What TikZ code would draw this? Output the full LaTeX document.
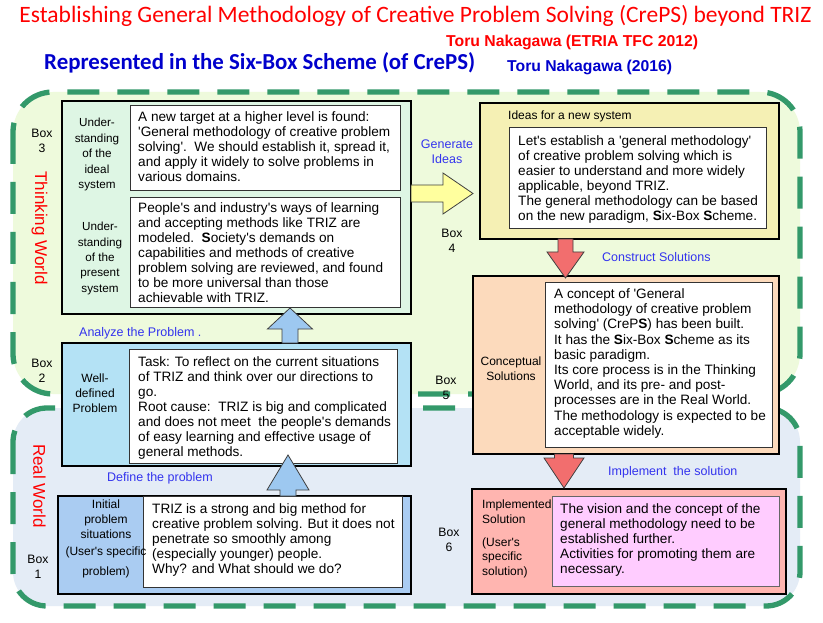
\documentclass[tikz,border=0pt]{standalone}
\usepackage{graphicx}
\usepackage{fontspec}
\setmainfont{Liberation Sans}[Ligatures=TeXOff]
\newfontfamily\calibri{Carlito}
\usetikzlibrary{calc,shadows}
\definecolor{dashgreen}{HTML}{33996A}
\definecolor{thinkbg}{HTML}{EEFADC}
\definecolor{realbg}{HTML}{E4ECF6}
\definecolor{boxthree}{HTML}{DEF6E4}
\definecolor{boxtwo}{HTML}{B4E2F5}
\definecolor{boxone}{HTML}{AACCF2}
\definecolor{boxfour}{HTML}{F5F0B4}
\definecolor{boxfive}{HTML}{FCDABC}
\definecolor{boxsix}{HTML}{FFB5B0}
\definecolor{pinkin}{HTML}{FFCCFF}
\definecolor{arrblue}{HTML}{9DC8F0}
\definecolor{arryellow}{HTML}{FFFF9E}
\definecolor{arrred}{HTML}{F26E6E}
\definecolor{actblue}{HTML}{3333EE}
\definecolor{titlered}{HTML}{FF0000}
\definecolor{subblue}{HTML}{0000CC}
\newcommand\varrowshape[6]{%
  \draw[#1] ($(#2)+(-#4,0)$) -- ($(#3)+(-#4,#6)$) -- ($(#3)+(-#5,#6)$) -- (#3)
    -- ($(#3)+(#5,#6)$) -- ($(#3)+(#4,#6)$) -- ($(#2)+(#4,0)$) -- cycle;}
\newcommand\harrowshape[6]{%
  \draw[#1] ($(#2)+(0,-#4)$) -- ($(#3)+(-#6,-#4)$) -- ($(#3)+(-#6,-#5)$) -- (#3)
    -- ($(#3)+(-#6,#5)$) -- ($(#3)+(-#6,#4)$) -- ($(#2)+(0,#4)$) -- cycle;}
\begin{document}
\begin{tikzpicture}[x=1pt,y=-1pt,
  region/.style={draw=dashgreen, line width=5.3pt, dash pattern=on 32pt off 18pt},
  outerbox/.style={draw=black, line width=1.3pt, anchor=north west, inner sep=0pt, outer sep=0pt},
  whitebox/.style={draw=black!80, line width=0.8pt, fill=white, anchor=north west, inner sep=0pt, outer sep=0pt,
     drop shadow={shadow xshift=1.3pt, shadow yshift=-1.3pt, fill=black!40, opacity=1}},
  body/.style={font=\fontsize{13.6}{15}\selectfont, align=left, anchor=north west, inner sep=0pt},
  lab/.style={font=\fontsize{12}{15}\selectfont, align=center, inner sep=0pt},
  boxlab/.style={font=\fontsize{12.2}{15}\selectfont, align=center, inner sep=0pt},
  act/.style={font=\fontsize{12.5}{15}\selectfont, text=actblue, inner sep=0pt},
  world/.style={font=\fontsize{17}{20}\selectfont, text=titlered, rotate=-90, inner sep=0pt},
  barrow/.style={fill=arrblue, draw=black!75, line width=0.8pt},
  yarrow/.style={fill=arryellow, draw=black!75, line width=0.8pt},
  rarrow/.style={fill=arrred, draw=black!75, line width=0.8pt}]
\useasboundingbox (0,0) rectangle (823,623);
\fill[white] (0,0) rectangle (823,623);

% worlds
\draw[region, fill=thinkbg, rounded corners=40pt] (13,92) rectangle (800,394);
\draw[region, fill=realbg, rounded corners=34pt] (13,408) rectangle (800,606);

% titles
\node[anchor=base west, inner sep=0pt, text=titlered] (title) at (19.3,22.7)
  {\resizebox{792pt}{!}{\calibri\fontsize{21}{24}\selectfont Establishing General Methodology of Creative Problem Solving (CrePS) beyond TRIZ}};
\node[anchor=base west, inner sep=0pt, text=titlered] (auth1) at (446,47)
  {\resizebox{252pt}{!}{\bfseries\fontsize{16.8}{20}\selectfont Toru Nakagawa (ETRIA TFC 2012)}};
\node[anchor=base west, inner sep=0pt, text=subblue] (subtitle) at (44,69.3)
  {\resizebox{431pt}{!}{\calibri\bfseries\fontsize{22}{26}\selectfont Represented in the Six-Box Scheme (of CrePS)}};
\node[anchor=base west, inner sep=0pt, text=subblue] (auth2) at (507,72)
  {\resizebox{165pt}{!}{\bfseries\fontsize{16.8}{20}\selectfont Toru Nakagawa (2016)}};

\node[world] (tw) at (39.5,228) {Thinking World};
\node[world] (rw) at (39.5,486) {Real World};

% Box 3
\node[outerbox, fill=boxthree, minimum width=349pt, minimum height=213pt] (b3) at (62,101) {};
\node[whitebox, minimum width=270pt, minimum height=85pt] (w3a) at (130,105) {};
\node[whitebox, minimum width=270pt, minimum height=110pt] (w3b) at (130,197) {};
\node[body] (t3a) at ($(w3a.north west)+(8,6.8)$) {A new target at a higher level is found:\\'General methodology of creative problem\\solving'.\ \ We should establish it, spread it,\\and apply it widely to solve problems in\\various domains.};
\node[body] (t3b) at ($(w3b.north west)+(8,5.4)$) {People's and industry's ways of learning\\and accepting methods like TRIZ are\\modeled.\ \ \textbf{S}ociety's demands on\\capabilities and methods of creative\\problem solving are reviewed, and found\\to be more universal than those\\achievable with TRIZ.};
\node[lab, font=\fontsize{11.7}{15.6}\selectfont] (l3a) at (97,154.6) {Under-\\standing\\of the\\ideal\\system};
\node[lab, font=\fontsize{11.7}{15.3}\selectfont] (l3b) at (100,258.5) {Under-\\standing\\of the\\present\\system};
\node[boxlab] (n3) at (42,140.5) {Box\\3};

% Box 2
\node[outerbox, fill=boxtwo, minimum width=349pt, minimum height=123pt] (b2) at (62,343) {};
\node[whitebox, minimum width=268pt, minimum height=114pt] (w2) at (129,349) {};
\node[body] (t2) at ($(w2.north west)+(9,7.8)$) {Task: To reflect on the current situations\\of TRIZ and think over our directions to\\go.\\Root cause:\ \ TRIZ is big and complicated\\and does not meet\ \ the people's demands\\of easy learning and effective usage of\\general methods.};
\node[lab] (l2) at (95,393) {Well-\\defined\\Problem};
\node[boxlab] (n2) at (42,370.5) {Box\\2};

% Box 1
\node[outerbox, fill=boxone, minimum width=353pt, minimum height=98pt] (b1) at (58,496) {};
\node[whitebox, minimum width=259pt, minimum height=91pt] (w1) at (143,496) {};
\node[body] (t1) at ($(w1.north west)+(9,7.4)$) {TRIZ is a strong and big method for\\creative problem solving. But it does not\\penetrate so smoothly among\\(especially younger) people.\\Why? and What should we do?};
\node[lab] (l1) at (106,539) {Initial\\problem\\situations\\[2pt](User's specific\\[5pt]problem)};
\node[boxlab] (n1) at (38,566.5) {Box\\1};

% Box 4
\node[outerbox, fill=boxfour, minimum width=299pt, minimum height=136pt] (b4) at (480,103) {};
\node[whitebox, minimum width=257pt, minimum height=101pt] (w4) at (509,127) {};
\node[body] (t4) at ($(w4.north west)+(9,8.1)$) {Let's establish a 'general methodology'\\of creative problem solving which is\\easier to understand and more widely\\applicable, beyond TRIZ.\\The general methodology can be based\\on the new paradigm, \textbf{S}ix-Box \textbf{S}cheme.};
\node[lab, anchor=west] (l4) at (508,116) {Ideas for a new system};
\node[boxlab] (n4) at (452,240.5) {Box\\4};

% Box 5
\node[outerbox, fill=boxfive, minimum width=306pt, minimum height=178pt] (b5) at (473,276) {};
\node[whitebox, minimum width=227pt, minimum height=165pt] (w5) at (545,282) {};
\node[body, font=\fontsize{13.6}{15.2}\selectfont] (t5) at ($(w5.north west)+(9,6.4)$) {A concept of 'General\\methodology of creative problem\\solving' (CreP\textbf{S}) has been built.\\It has the \textbf{S}ix-Box \textbf{S}cheme as its\\basic paradigm.\\Its core process is in the Thinking\\World, and its pre- and post-\\processes are in the Real World.\\The methodology is expected to be\\acceptable widely.};
\node[lab] (l5) at (511,368.5) {Conceptual\\Solutions};
\node[boxlab] (n5) at (446,387.5) {Box\\5};

% Box 6
\node[outerbox, fill=boxsix, minimum width=314pt, minimum height=105pt] (b6) at (472,489) {};
\node[whitebox, fill=pinkin, draw=black!60, minimum width=227pt, minimum height=90pt] (w6) at (552,496) {};
\node[body] (t6) at ($(w6.north west)+(8,7.4)$) {The vision and the concept of the\\general methodology need to be\\established further.\\Activities for promoting them are\\necessary.};
\node[lab, align=left, anchor=north west, font=\fontsize{12}{14.5}\selectfont] (l6) at (482,500) {Implemented\\Solution\\[8.5pt](User's\\specific\\solution)};
\node[boxlab] (n6) at (449,539.5) {Box\\6};

% action labels
\node[act, anchor=west] (a12) at (107,478) {Define the problem};
\node[act, anchor=west] (a23) at (79,333) {Analyze the Problem .};
\node[act, align=center] (a34) at (447,151.5) {Generate\\Ideas};
\node[act, anchor=west] (a45) at (602,257) {Construct Solutions};
\node[act, anchor=west] (a56) at (608,472) {Implement\ \ the solution};

% block arrows
\coordinate (s12) at ($(b1.north west)+(230,0)$);
\coordinate (e12) at ($(b2.south west)+(226,-11)$);
\varrowshape{barrow}{s12}{e12}{8}{21}{35}
\coordinate (s23) at ($(b2.north west)+(228,0)$);
\coordinate (e23) at ($(b3.south west)+(228,-6)$);
\varrowshape{barrow}{s23}{e23}{8}{22.5}{21}
\coordinate (s34) at ($(b3.north east)+(0,92.5)$);
\coordinate (e34) at ($(b4.north west)+(-7,90.5)$);
\harrowshape{yarrow}{s34}{e34}{8.5}{20.5}{30}
\coordinate (s45) at ($(b4.south west)+(85.5,0)$);
\coordinate (e45) at ($(b5.north west)+(92.5,2)$);
\varrowshape{rarrow}{s45}{e45}{7.5}{18.5}{-26}
\coordinate (s56) at ($(b5.south west)+(91,0)$);
\coordinate (e56) at ($(b6.north west)+(92,-1)$);
\varrowshape{rarrow}{s56}{e56}{9.5}{20}{-30}
\end{tikzpicture}
\end{document}
